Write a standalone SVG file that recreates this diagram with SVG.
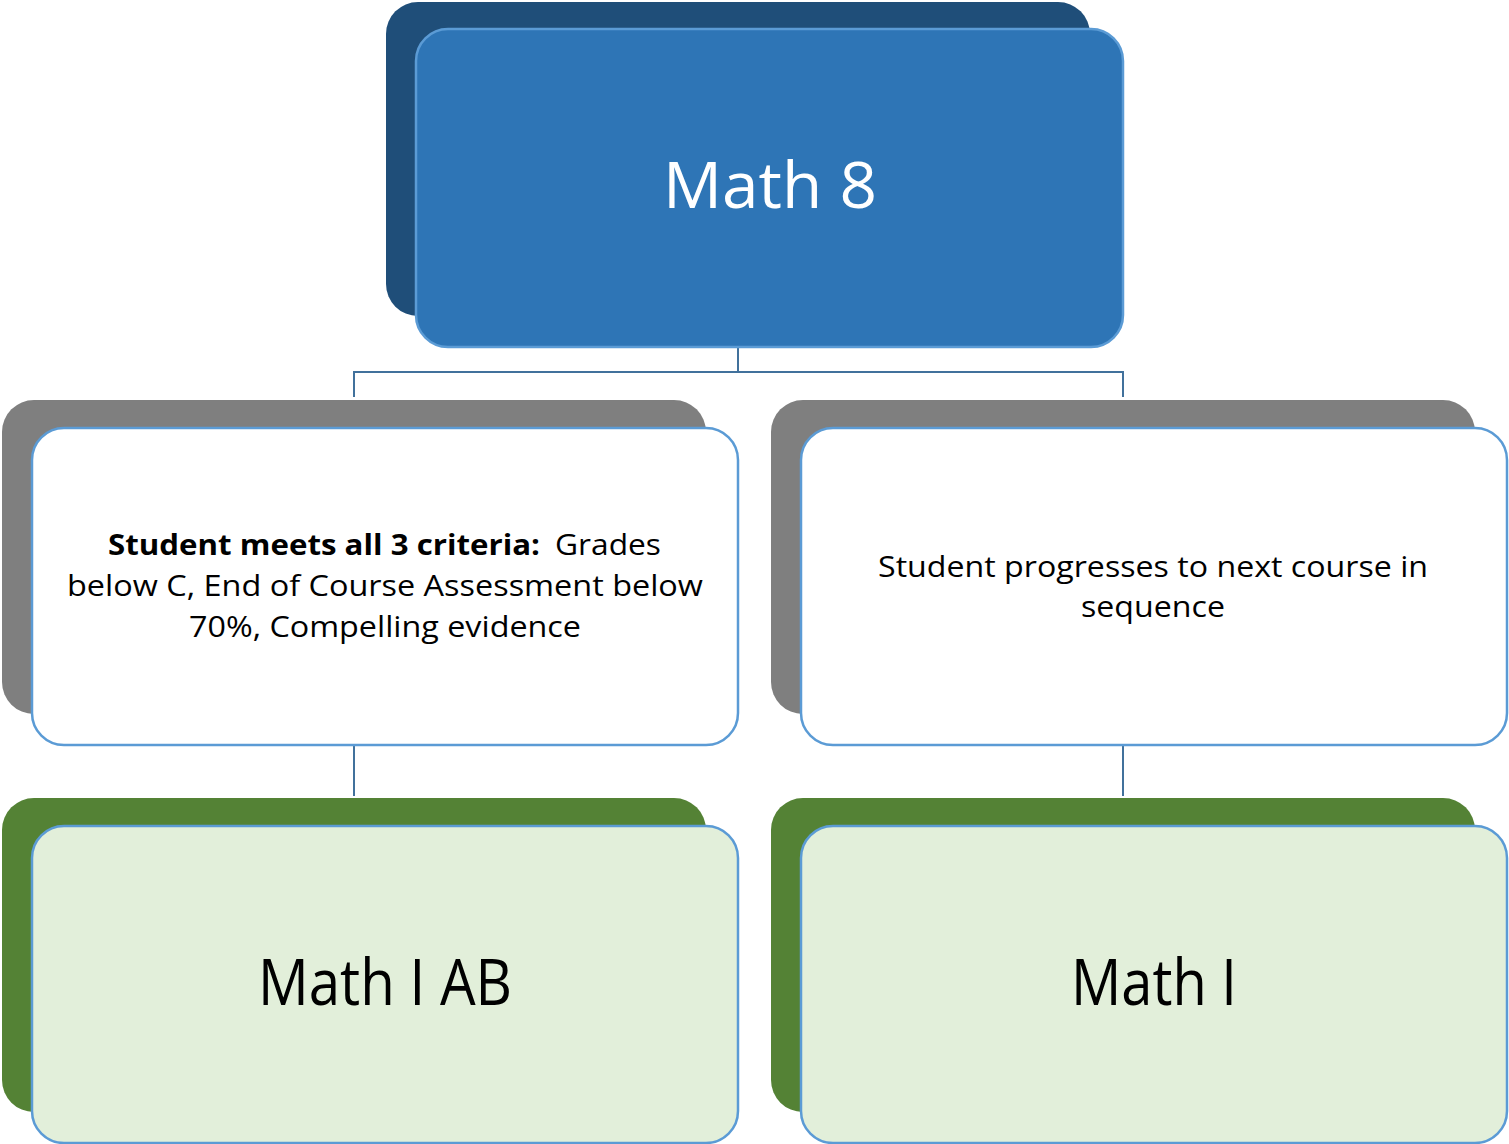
<svg xmlns="http://www.w3.org/2000/svg" width="1509" height="1144" viewBox="0 0 1509 1144">
<style>
.front{stroke:#5B9BD5;stroke-width:2.5}
.conn{fill:none;stroke:#41719C;stroke-width:2}
text{font-family:"Open Sans","Liberation Sans",sans-serif}
.big{font-size:64px;text-anchor:middle}
.mid{font-size:29px;fill:#000}
</style>
<rect width="1509" height="1144" fill="#fff"/>
<g id="connectors">
<path class="conn" d="M738,347 V372 M354,397 V372 H1123 V397"/>
<path class="conn" d="M354,745 V796 M1123,745 V796"/>
</g>
<g id="node-math8">
<rect x="386" y="2" width="704" height="314" rx="32" fill="#1F4E79"/>
<rect class="front" x="416" y="29" width="707" height="318" rx="32" fill="#2E75B6"/>
<text class="big" x="770" y="208" fill="#fff" textLength="214" lengthAdjust="spacingAndGlyphs">Math 8</text>
</g>
<g id="node-criteria">
<rect x="2" y="400" width="704" height="314" rx="32" fill="#7F7F7F"/>
<rect class="front" x="32" y="428" width="706" height="317" rx="32" fill="#fff"/>
<text class="mid" x="108" y="555" font-weight="bold" textLength="432" lengthAdjust="spacingAndGlyphs">Student meets all 3 criteria:</text>
<text class="mid" x="555" y="555" textLength="106" lengthAdjust="spacingAndGlyphs">Grades</text>
<text class="mid" x="67" y="596" textLength="636" lengthAdjust="spacingAndGlyphs">below C, End of Course Assessment below</text>
<text class="mid" x="189" y="637" textLength="392" lengthAdjust="spacingAndGlyphs">70%, Compelling evidence</text>
</g>
<g id="node-progress">
<rect x="771" y="400" width="704" height="314" rx="32" fill="#7F7F7F"/>
<rect class="front" x="801" y="428" width="706" height="317" rx="32" fill="#fff"/>
<text class="mid" x="878" y="577" textLength="550" lengthAdjust="spacingAndGlyphs">Student progresses to next course in</text>
<text class="mid" x="1153" y="617" text-anchor="middle" textLength="144" lengthAdjust="spacingAndGlyphs">sequence</text>
</g>
<g id="node-mathIAB">
<rect x="2" y="798" width="704" height="314" rx="32" fill="#548235"/>
<rect class="front" x="32" y="826" width="706" height="317" rx="32" fill="#E2EFDA"/>
<text class="big" x="385" y="1005" fill="#000" textLength="254" lengthAdjust="spacingAndGlyphs">Math I AB</text>
</g>
<g id="node-mathI">
<rect x="771" y="798" width="704" height="314" rx="32" fill="#548235"/>
<rect class="front" x="801" y="826" width="706" height="317" rx="32" fill="#E2EFDA"/>
<text class="big" x="1154" y="1005" fill="#000" textLength="166" lengthAdjust="spacingAndGlyphs">Math I</text>
</g>
</svg>
